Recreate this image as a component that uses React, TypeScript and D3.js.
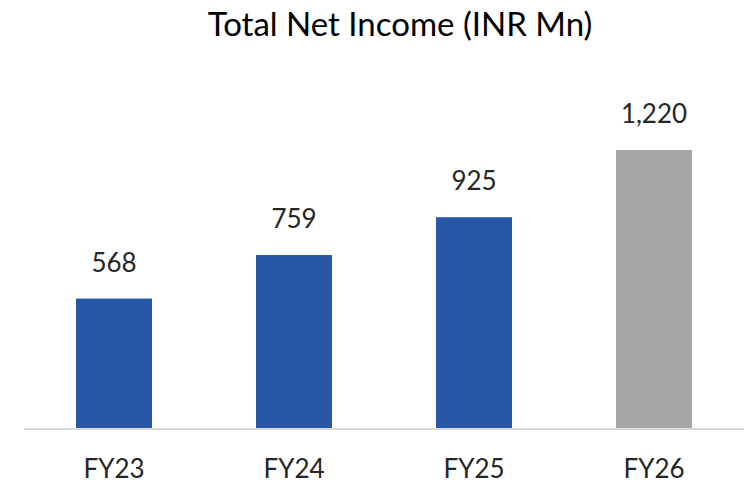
import { useEffect, useRef } from 'react'
import * as d3 from 'd3'

const categories = ['FY23', 'FY24', 'FY25', 'FY26']
const values = [568, 759, 925, 1220]
const barColors = ['#2656a5', '#2656a5', '#2656a5', '#a6a6a6']
const title = 'Total Net Income (INR Mn)'

const FONT = 'Lato, "Open Sans", sans-serif'

export default function App() {
  const svgRef = useRef<SVGSVGElement>(null)

  useEffect(() => {
    if (!svgRef.current) return
    const width = 751
    const height = 485
    const svg = d3.select(svgRef.current)
    svg.selectAll('*').remove()
    svg.attr('width', width).attr('height', height)

    const x = d3.scaleBand().domain(categories).range([24, 744]).paddingInner(0.578).paddingOuter(0.289)
    const y = d3.scaleLinear().domain([0, 1220]).range([428, 150])

    // Title
    svg.append('text')
      .attr('x', 400)
      .attr('y', 36)
      .attr('text-anchor', 'middle')
      .attr('font-family', FONT)
      .attr('font-size', '33px')
      .attr('fill', '#000')
      .text(title)

    // Bars
    svg.selectAll('rect.bar')
      .data(values)
      .enter().append('rect')
      .attr('class', 'bar')
      .attr('x', (_, i) => x(categories[i]) ?? 0)
      .attr('width', x.bandwidth())
      .attr('y', d => y(d))
      .attr('height', d => y(0) - y(d))
      .attr('fill', (_, i) => barColors[i])

    // Baseline
    svg.append('line')
      .attr('x1', 24)
      .attr('x2', 744)
      .attr('y1', y(0) + 1)
      .attr('y2', y(0) + 1)
      .attr('stroke', '#d9d9d9')
      .attr('stroke-width', 2)

    // Value labels
    svg.selectAll('text.val')
      .data(values)
      .enter().append('text')
      .attr('class', 'val')
      .attr('x', (_, i) => (x(categories[i]) ?? 0) + x.bandwidth() / 2)
      .attr('y', d => y(d) - 27)
      .attr('text-anchor', 'middle')
      .attr('font-family', FONT)
      .attr('font-size', '26px')
      .attr('fill', '#262626')
      .text(d => d3.format(',')(d))

    // Category labels
    svg.selectAll('text.cat')
      .data(categories)
      .enter().append('text')
      .attr('class', 'cat')
      .attr('x', d => (x(d) ?? 0) + x.bandwidth() / 2)
      .attr('y', 478)
      .attr('text-anchor', 'middle')
      .attr('font-family', FONT)
      .attr('font-size', '26px')
      .attr('fill', '#262626')
      .text(d => d)
  }, [])

  return <svg ref={svgRef} style={{ position: 'absolute', left: 0, top: 0 }} />
}
